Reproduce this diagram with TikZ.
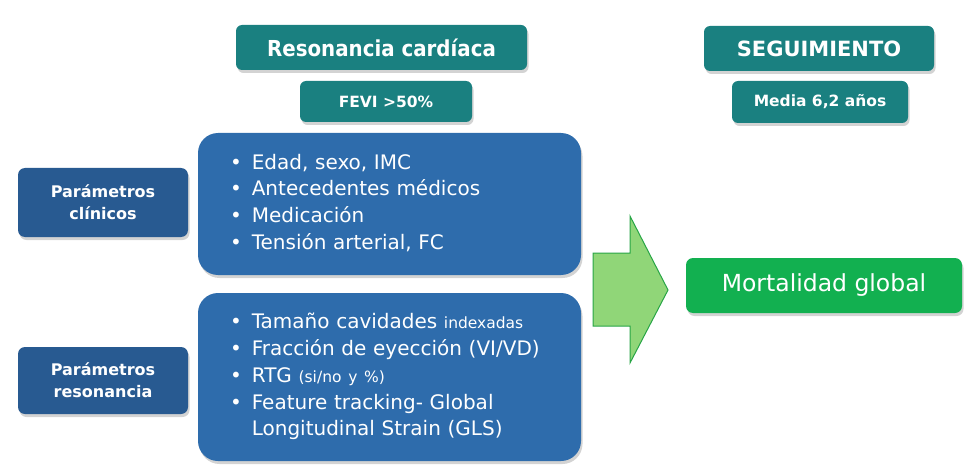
\documentclass[tikz,border=0pt]{standalone}
\usepackage{fontspec}
\setmainfont{DejaVu Sans}
\newfontfamily\narrowfont{DejaVu Sans}[FakeStretch=0.9]
\usetikzlibrary{shadows}
\definecolor{tealbox}{RGB}{26,128,128}
\definecolor{sidebox}{RGB}{40,90,145}
\definecolor{listbox}{RGB}{46,108,172}
\definecolor{mortbox}{RGB}{18,176,80}
\definecolor{arrowfill}{RGB}{144,214,120}
\definecolor{arrowline}{RGB}{40,165,70}
\newcommand{\bul}[1]{\textbullet & #1\\}
\newcommand{\smalltxt}[1]{{\fontsize{15.5}{18}\selectfont #1}}

\begin{document}
\begin{tikzpicture}[x=1pt,y=-1pt,
    shad/.style={drop shadow={opacity=0.35,shadow xshift=1.5pt,shadow yshift=-3pt}},
    head/.style={rectangle, rounded corners=6pt, fill=tealbox, text=white, shad,
      font=\narrowfont\bfseries\fontsize{22}{25}\selectfont, inner sep=0pt},
    subhead/.style={head, font=\bfseries\fontsize{15.5}{18}\selectfont},
    side/.style={rectangle, rounded corners=7pt, fill=sidebox, text=white, shad,
      align=center, minimum width=170pt, inner sep=0pt,
      font=\bfseries\fontsize{16}{22}\selectfont},
    list/.style={rectangle, rounded corners=20pt, fill=listbox, text=white, shad,
      minimum width=383pt, inner xsep=32pt, inner ysep=0pt, text width=319pt,
      font=\fontsize{20}{26.7}\selectfont},
    result/.style={rectangle, rounded corners=7pt, fill=mortbox, text=white, shad,
      minimum width=276pt, minimum height=55pt,
      font=\fontsize{23.5}{27}\selectfont}
  ]
  \useasboundingbox (0,0) rectangle (980,476);
  \node[head, minimum width=291pt, minimum height=45pt] (res) at (381.5,47.5) {Resonancia cardíaca};
  \node[subhead, minimum width=172pt, minimum height=41pt] (fevi) at (386,101.5) {FEVI >50\%};
  \node[head, minimum width=230pt, minimum height=45pt,
    font=\bfseries\fontsize{21}{24}\selectfont] (seg) at (819,48.5) {SEGUIMIENTO};
  \node[subhead, minimum width=176pt, minimum height=42pt] (media) at (820,102) {Media 6,2 años};
  \node[side, minimum height=69pt] (clin) at (103,202.5) {Parámetros\\clínicos};
  \node[side, minimum height=67pt] (reso) at (103,380.5) {Parámetros\\resonancia};
  \node[list, minimum height=142pt] (clinlist) at (389.5,204) {%
    \begin{tabular}{@{}l@{\hspace{10pt}}l@{}}
      \bul{Edad, sexo, IMC}
      \bul{Antecedentes médicos}
      \bul{Medicación}
      \bul{Tensión arterial, FC}
    \end{tabular}};
  \node[list, minimum height=168pt] (resolist) at (389.5,377) {%
    \begin{tabular}{@{}l@{\hspace{10pt}}l@{}}
      \bul{Tamaño cavidades \smalltxt{indexadas}}
      \bul{Fracción de eyección (VI/VD)}
      \bul{RTG \smalltxt{(si/no y \%)}}
      \bul{Feature tracking- Global}
      & Longitudinal Strain (GLS)\\
    \end{tabular}};
  \draw[fill=arrowfill, draw=arrowline, line width=1pt, line join=miter]
    (593,253) -- (630,253) -- (630,216) -- (668,290) -- (630,363) -- (630,326) -- (593,326) -- cycle;
  \node[result] (mort) at (824,285.5) {Mortalidad global};
\end{tikzpicture}
\end{document}
